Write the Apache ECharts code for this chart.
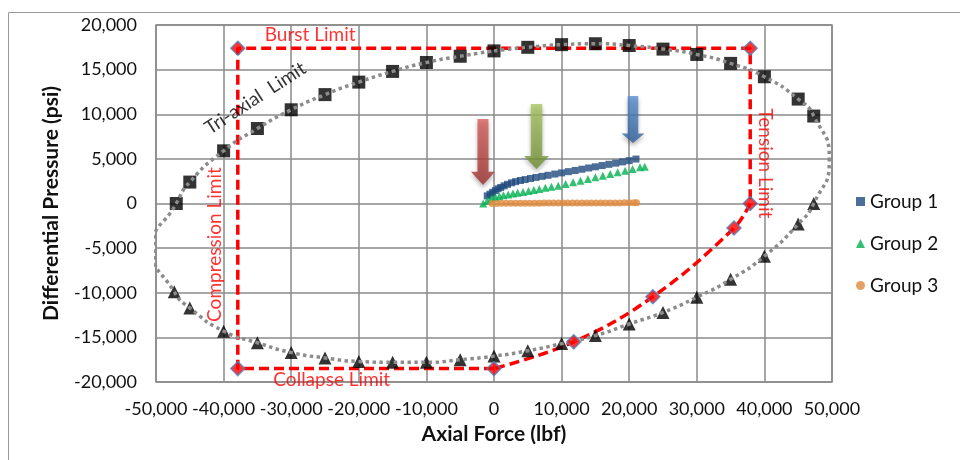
<!DOCTYPE html>
<html>
<head>
<meta charset="utf-8">
<script src="https://cdn.jsdelivr.net/npm/echarts@6/dist/echarts.min.js"></script>
<style>
  html, body { margin: 0; padding: 0; background: #fff; }
  #chart { width: 960px; height: 460px; }
</style>
</head>
<body>
<div id="chart"></div>
<script>
// Axis ranges (lbf on x, psi on y)
const xRange = { min: -50000, max: 50000, step: 10000 };
const yRange = { min: -20000, max: 20000, step: 5000 };

// Tri-axial limit, upper branch (squares), left to right
const triUpperX = [-47000, -45000, -40000, -35000, -30000, -25000, -20000, -15000, -10000, -5000, 0, 5000, 10000, 15000, 20000, 25000, 30000, 35000, 40000, 45000, 47300];
const triUpperY = [0, 2400, 5900, 8400, 10500, 12200, 13600, 14800, 15800, 16500, 17100, 17500, 17800, 17900, 17700, 17300, 16700, 15700, 14200, 11700, 9800];

// Tri-axial limit, lower branch (triangles), right to left
const triLowerX = [47300, 45000, 40000, 35000, 30000, 25000, 20000, 15000, 10000, 5000, 0, -5000, -10000, -15000, -20000, -25000, -30000, -35000, -40000, -45000, -47300];
const triLowerY = [0, -2300, -5900, -8500, -10500, -12200, -13500, -14800, -15700, -16500, -17100, -17500, -17800, -17800, -17700, -17300, -16700, -15600, -14300, -11700, -9900];

// Unmarked extreme points of the tri-axial curve (left, right)
const triEndX = [-50400, 49600];
const triEndY = [-5000, 4900];

// Burst / tension / collapse / compression envelope corners
const limitX = [-37900, 37900, 37900, 35500, 23500, 11800, 0, -37900];
const limitY = [17400, 17400, 0, -2750, -10450, -15500, -18500, -18500];

// Load groups
const group1X = [-1000, -600, -200, 200, 600, 1000, 1500, 2000, 2600, 3200, 3900, 4600, 5400, 6200, 7100, 8000, 9000, 10000, 11000, 12000, 13000, 14000, 15000, 16000, 17000, 18000, 19000, 20000, 21000];
const group1Y = [850, 1050, 1250, 1450, 1650, 1800, 1980, 2150, 2320, 2450, 2580, 2680, 2800, 2920, 3040, 3160, 3300, 3430, 3570, 3700, 3840, 3980, 4110, 4250, 4390, 4520, 4660, 4800, 4980];

const group2X = [-1600, -1000, -400, 200, 800, 1400, 2100, 2800, 3500, 4300, 5100, 5900, 6700, 7600, 8500, 9500, 10600, 11700, 12800, 13900, 15000, 16100, 17200, 18300, 19400, 20500, 21600, 22300];
const group2Y = [0, 300, 520, 700, 820, 920, 1020, 1110, 1200, 1300, 1400, 1500, 1620, 1760, 1880, 2000, 2190, 2370, 2560, 2740, 2930, 3120, 3300, 3490, 3670, 3860, 4050, 4110];

const group3X = [-300, 400, 1100, 1800, 2500, 3200, 3900, 4600, 5300, 6000, 6700, 7400, 8100, 8800, 9500, 10200, 10900, 11600, 12300, 13000, 13700, 14400, 15100, 15800, 16500, 17200, 17900, 18600, 19300, 20000, 20700, 21100];
const group3Y = [0, 10, 20, 20, 30, 30, 30, 40, 40, 40, 40, 50, 50, 50, 50, 50, 60, 60, 60, 60, 60, 60, 70, 70, 70, 70, 70, 70, 80, 80, 80, 80];

const groupNames = ['Group 1', 'Group 2', 'Group 3'];

// Pointer arrows (tip location in data units)
const arrowTipX = [-1630, 6290, 20560];
const arrowTipY = [2070, 3860, 6780];

// Text notes anchored in data units
const noteText = ['Burst Limit', 'Collapse Limit', 'Compression Limit', 'Tension Limit', 'Tri-axial  Limit'];
const noteX = [-27200, -24000, -41300, 40100, -35300];
const noteY = [18900, -19800, -4600, 4500, 11800];

const pts = (xs, ys) => xs.map((x, i) => [x, ys[i]]);
const pick = (idx) => idx.map(i => [limitX[i], limitY[i]]);

const FONT = 'Lato';
const fmt = v => v.toLocaleString('en-US');

// Closed tri-axial loop, opened at the flat top so the seam stays smooth:
// top -> right part of upper branch -> right extreme -> lower branch -> left extreme -> left part of upper branch -> top
const upper = pts(triUpperX, triUpperY);
const seam = triUpperX.indexOf(0);
const triLoop = upper.slice(seam).concat(
  [[triEndX[1], triEndY[1]]],
  pts(triLowerX, triLowerY),
  [[triEndX[0], triEndY[0]]],
  upper.slice(0, seam + 1)
);

const arrowPath = 'path://M27,0 L73,0 L73,80 L100,80 L50,100 L0,80 L27,80 Z';
const arrowStyles = [
  { size: [24, 66], top: '#d8605c', bottom: '#9c302d' },
  { size: [25, 65], top: '#a9c964', bottom: '#6f8f34' },
  { size: [23, 47], top: '#5b8fd0', bottom: '#2f5f9c' }
];

const noteStyles = [
  { rotate: 0, color: '#ff0000' },
  { rotate: 0, color: '#ff0000' },
  { rotate: 90, color: '#ff0000' },
  { rotate: -90, color: '#ff0000' },
  { rotate: 33, color: '#000000' }
];

const chart = echarts.init(document.getElementById('chart'), null, { renderer: 'canvas' });

chart.setOption({
  animation: false,
  textStyle: { fontFamily: FONT },
  graphic: [{
    type: 'rect', silent: true, z: -10,
    shape: { x: 8.5, y: 12.5, width: 1200, height: 1000 },
    style: { fill: 'none', stroke: '#9a9a9a', lineWidth: 1 }
  }],
  grid: {
    left: 156, right: 128, top: 25, bottom: 78,
    show: true, borderColor: '#8a8a8a', borderWidth: 1.5, backgroundColor: 'transparent'
  },
  legend: {
    orient: 'vertical', left: 851, top: 185,
    itemWidth: 9, itemHeight: 9, itemGap: 19,
    data: groupNames,
    textStyle: { fontFamily: FONT, fontSize: 19, color: '#111', lineHeight: 23 }
  },
  xAxis: {
    type: 'value', min: xRange.min, max: xRange.max, interval: xRange.step,
    name: 'Axial Force (lbf)', nameLocation: 'middle', nameGap: 42,
    nameTextStyle: { fontFamily: FONT, fontSize: 21, fontWeight: 'bold', color: '#111' },
    axisLine: { show: false, onZero: false }, axisTick: { show: false },
    axisLabel: { formatter: fmt, fontFamily: FONT, fontSize: 18, color: '#111', margin: 18 },
    splitLine: { show: true, lineStyle: { color: '#8a8a8a', width: 1.5 } }
  },
  yAxis: {
    type: 'value', min: yRange.min, max: yRange.max, interval: yRange.step,
    name: 'Differential Pressure (psi)', nameLocation: 'middle', nameGap: 94,
    nameTextStyle: { fontFamily: FONT, fontSize: 21, fontWeight: 'bold', color: '#111' },
    axisLine: { show: false, onZero: false }, axisTick: { show: false },
    axisLabel: { formatter: fmt, fontFamily: FONT, fontSize: 18, color: '#111', margin: 19 },
    splitLine: { show: true, lineStyle: { color: '#8a8a8a', width: 1.5 } }
  },
  series: [
    {
      name: 'Envelope', type: 'line', z: 1, silent: true, showSymbol: false,
      data: pick([6, 7, 0, 1, 2]),
      lineStyle: { color: '#ff0000', width: 3.5, type: [10, 5] }
    },
    {
      name: 'Envelope curve', type: 'line', z: 1, silent: true, showSymbol: false, smooth: 0.4,
      data: pick([2, 3, 4, 5, 6]),
      lineStyle: { color: '#ff0000', width: 3.5, type: [10, 5] }
    },
    {
      name: 'Tri-axial upper', type: 'scatter', z: 2, silent: true,
      symbol: 'rect', symbolSize: 13,
      data: pts(triUpperX, triUpperY),
      itemStyle: { color: '#000' }
    },
    {
      name: 'Tri-axial lower', type: 'scatter', z: 2, silent: true,
      symbol: 'triangle', symbolSize: 13,
      data: pts(triLowerX, triLowerY),
      itemStyle: { color: '#000' }
    },
    {
      name: 'Tri-axial', type: 'line', z: 3, silent: true, showSymbol: false, smooth: 0.6,
      data: triLoop,
      lineStyle: { color: '#8c8c8c', width: 3.5, type: [3.5, 3.5] }
    },
    {
      name: 'Envelope points', type: 'scatter', z: 4, silent: true,
      symbol: 'diamond', symbolSize: 14,
      data: pts(limitX, limitY),
      itemStyle: { color: '#ff0000', borderColor: '#4f81bd', borderWidth: 1.5 }
    },
    {
      name: groupNames[0], type: 'scatter', z: 5, symbol: 'rect', symbolSize: 7,
      data: pts(group1X, group1Y), itemStyle: { color: '#1f4a7d' }
    },
    {
      name: groupNames[1], type: 'scatter', z: 5, symbol: 'triangle', symbolSize: 8,
      data: pts(group2X, group2Y), itemStyle: { color: '#00b050' }
    },
    {
      name: groupNames[2], type: 'scatter', z: 5, symbol: 'circle', symbolSize: 7,
      data: pts(group3X, group3Y), itemStyle: { color: '#e08b3e' }
    },
    {
      name: 'Arrows', type: 'scatter', z: 6, silent: true,
      symbol: arrowPath, symbolKeepAspect: false,
      data: arrowTipX.map((x, i) => ({
        value: [x, arrowTipY[i]],
        symbolSize: arrowStyles[i].size,
        symbolOffset: [0, '-50%'],
        itemStyle: {
          color: {
            type: 'linear', x: 0, y: 0, x2: 0, y2: 1,
            colorStops: [
              { offset: 0, color: arrowStyles[i].top },
              { offset: 1, color: arrowStyles[i].bottom }
            ]
          },
          shadowColor: 'rgba(0,0,0,0.35)', shadowBlur: 4, shadowOffsetY: 3
        }
      }))
    },
    {
      name: 'Notes', type: 'scatter', z: 7, silent: true,
      symbolSize: 1, itemStyle: { color: 'transparent' },
      data: noteText.map((t, i) => ({
        name: t, value: [noteX[i], noteY[i]],
        label: {
          show: true, formatter: '{b}', position: 'inside',
          rotate: noteStyles[i].rotate, color: noteStyles[i].color,
          fontFamily: FONT, fontSize: 19, align: 'center', verticalAlign: 'middle'
        }
      }))
    }
  ]
});
</script>
</body>
</html>
